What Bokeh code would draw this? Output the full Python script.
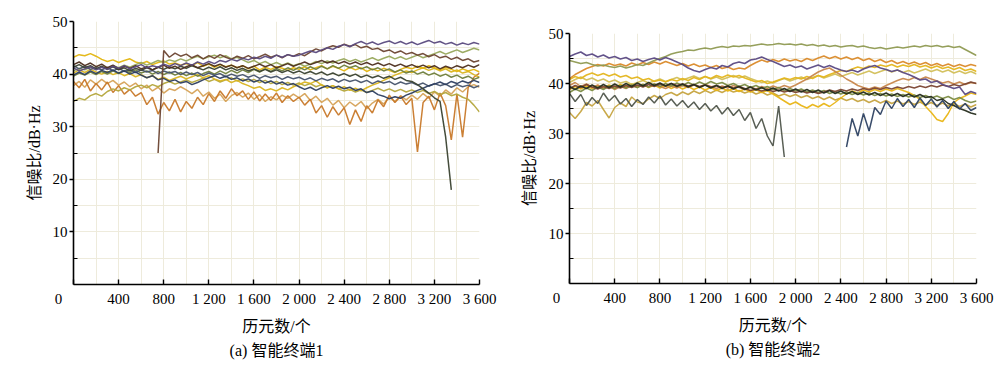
from bokeh.plotting import figure
from bokeh.layouts import row
from bokeh.models import Range1d, FixedTicker, Title
from bokeh.embed import file_html
from bokeh.resources import INLINE

STEP = 50  # epoch spacing of the read-off values

x_ticks = [0, 400, 800, 1200, 1600, 2000, 2400, 2800, 3200, 3600]
x_tick_labels = ["0", "400", "800", "1 200", "1 600", "2 000", "2 400", "2 800", "3 200", "3 600"]
y_ticks = [10, 20, 30, 40, 50]
y_minor = [5, 15, 25, 35, 45]
x_title = "历元数/个"
y_title = "信噪比/dB·Hz"
caption_a = "(a) 智能终端1"
caption_b = "(b) 智能终端2"

# ---------------- panel (a): smart terminal 1 ----------------
a_yellow1 = [43.2, 43.7, 43.5, 43.9, 43.4, 42.8, 42.4, 42.7, 42.2, 42.6,
             42.9, 42.3, 42.0, 42.4, 41.8, 42.2, 42.5, 41.9, 42.1, 41.7,
             42.0, 41.6, 42.2, 41.5, 41.9, 41.3, 41.8, 41.4, 41.7, 41.2,
             41.6, 41.0, 41.5, 40.8, 41.3, 40.9, 41.4, 41.1, 40.7, 41.2,
             40.9, 41.4, 40.8, 41.2, 41.6, 41.0, 41.5, 41.1, 40.6, 41.3,
             40.8, 41.2, 40.5, 41.0, 40.6, 41.1, 40.7, 40.3, 40.9, 41.3,
             41.0, 41.5, 41.1, 41.6, 41.2, 40.8, 41.3, 40.9, 40.5, 41.0,
             40.6, 40.9, 40.4]
a_purple = [41.2, 40.6, 41.0, 41.4, 40.8, 41.3, 40.9, 41.5, 41.1, 41.6,
            41.0, 41.4, 41.8, 41.2, 41.6, 41.3, 41.9, 41.5, 42.0, 41.6,
            42.1, 41.7, 42.3, 41.9, 42.4, 42.0, 42.6, 42.3, 42.8, 42.5,
            43.0, 42.7, 43.2, 42.9, 43.4, 43.0, 43.6, 43.2, 43.7, 43.4,
            43.6, 44.0, 44.4, 44.1, 44.6, 45.0, 44.7, 45.3, 45.6, 45.2,
            45.8, 46.2, 45.7, 46.1, 45.6, 46.0, 46.3, 45.8, 46.2, 45.7,
            46.1, 45.6, 46.0, 46.4, 45.9, 46.2, 45.7, 46.0, 45.5, 45.9,
            45.6, 46.0, 45.7]
a_brown1_start = 750
a_brown1 = [25.0, 44.5, 43.2, 44.0, 43.4,
            43.8, 43.1, 43.6, 42.9, 43.5, 43.0, 43.7, 43.2, 42.8, 43.4,
            43.0, 43.5, 42.9, 43.3, 43.8, 43.2, 43.6, 43.1, 43.7, 43.4,
            43.9, 43.5, 44.2, 44.8, 44.4, 45.0, 45.4, 45.1, 45.7, 45.3,
            45.6, 45.0, 45.3, 44.7, 44.9, 44.3, 44.6, 44.0, 44.4, 43.8,
            44.1, 43.6, 43.9, 43.3, 43.7, 43.1, 43.4, 42.8, 43.2, 42.6,
            42.9, 42.3, 42.6]
a_brown2 = [41.8, 42.3, 41.6, 42.1, 41.4, 41.9, 41.2, 41.7, 41.0, 41.5,
            41.1, 41.6, 41.0, 41.4, 40.8, 41.3, 41.7, 41.1, 41.5, 40.9,
            41.4, 41.8, 41.2, 41.6, 42.0, 41.5, 41.9, 41.3, 41.7, 41.2,
            41.6, 41.1, 41.5, 41.9, 41.4, 41.8, 41.2, 41.6, 42.0, 41.5,
            41.9, 42.3, 41.8, 42.2, 42.6, 42.1, 42.5, 42.0, 42.4, 41.9,
            42.3, 41.8, 42.2, 41.7, 42.1, 41.6, 42.0, 41.5, 41.9, 41.4,
            41.8, 41.3, 41.7, 41.2, 41.6, 41.0, 41.5, 41.1, 41.6, 41.2,
            41.7, 41.3, 41.8]
a_lightgreen = [40.6, 41.1, 40.8, 41.3, 40.9, 41.4, 41.0, 41.6, 41.2, 41.7,
                41.3, 41.8, 42.2, 41.7, 42.1, 42.6, 42.2, 42.7, 42.4, 42.9,
                42.5, 43.0, 43.4, 42.9, 43.3, 43.6, 43.1, 43.5, 42.9, 43.2,
                42.7, 42.2, 42.6, 42.0, 42.4, 41.8, 42.2, 41.7, 42.1, 41.6,
                42.0, 41.5, 41.9, 42.4, 42.0, 42.5, 42.1, 42.6, 42.9, 42.4,
                42.8, 42.3, 42.7, 43.1, 42.6, 43.0, 43.4, 42.9, 43.3, 42.8,
                43.2, 43.6, 43.1, 43.5, 43.9, 44.3, 43.8, 44.2, 44.6, 44.1,
                44.5, 44.9, 44.6]
a_darkgreen = [41.3, 41.8, 41.2, 41.6, 41.0, 41.5, 40.9, 41.4, 40.8, 41.2,
               40.6, 41.1, 40.7, 41.2, 40.8, 41.3, 40.9, 41.4, 41.0, 41.5,
               41.1, 41.6, 41.2, 40.8, 41.3, 40.9, 41.4, 40.8, 41.2, 40.7,
               41.1, 40.6, 41.0, 40.5, 40.9, 40.4, 40.8, 40.3, 40.7, 40.2,
               40.6, 40.1, 40.5, 40.0, 40.4, 39.8, 40.2, 39.7, 40.1, 39.6,
               40.0, 39.4, 39.8, 39.3, 39.7, 39.2, 39.6, 39.0, 39.4, 38.8,
               38.6, 38.0, 37.2, 36.4, 35.5, 34.8, 28.0, 18.0]
a_navy1 = [39.8, 40.4, 39.9, 40.6, 40.1, 40.7, 40.3, 40.8, 40.2, 40.6,
           40.0, 40.4, 39.8, 39.3, 39.7, 38.9, 39.2, 38.6, 38.9, 38.3,
           38.6, 38.0, 38.4, 38.9, 39.3, 39.7, 39.2, 39.6, 39.0, 39.3,
           38.7, 39.1, 38.5, 38.9, 38.3, 38.7, 38.1, 38.5, 37.9, 38.2,
           37.6, 37.1, 37.5, 36.9, 37.4, 37.8, 37.3, 37.7, 37.2, 37.5,
           36.9, 37.2, 36.5, 36.8, 36.1, 35.8, 35.3, 35.7, 35.4, 36.0,
           36.4, 36.9, 37.3, 37.8, 38.1, 38.5, 38.0, 38.6, 38.2, 38.7,
           38.3, 38.8, 38.4]
a_navy2 = [41.6, 41.0, 41.5, 40.9, 41.2, 40.8, 41.3, 40.6, 41.1, 40.5,
           40.9, 40.3, 40.8, 40.4, 40.7, 40.1, 40.6, 40.2, 40.5, 39.9,
           40.4, 39.9, 40.3, 39.7, 40.2, 39.8, 40.1, 39.5, 40.0, 39.6,
           39.9, 39.4, 39.8, 39.2, 39.7, 39.3, 39.6, 39.0, 39.5, 39.1,
           39.4, 38.9, 39.3, 38.7, 39.2, 38.8, 39.1, 38.5, 39.0, 38.6,
           38.9, 38.4, 38.8, 38.2, 38.7, 38.3, 38.6, 38.0, 38.5, 38.1,
           38.4, 37.9, 38.3, 37.7, 38.2, 37.8, 38.1, 37.5, 38.0, 37.6,
           37.9, 37.4, 37.8]
a_orange = [38.6, 37.4, 39.0, 36.8, 38.2, 37.0, 38.5, 36.5, 37.8, 36.2,
            37.1, 35.8, 36.5, 34.2, 35.6, 32.4, 34.6, 33.0, 35.2, 32.8,
            34.8, 33.5, 35.6, 34.2, 36.3, 34.8, 36.8, 35.4, 37.2, 35.9,
            36.8, 35.2, 36.6, 34.9, 36.2, 35.0, 36.4, 34.6, 35.9, 34.8,
            35.6, 34.1, 35.2, 32.6, 34.0, 31.8, 33.8, 32.2, 33.6, 30.4,
            33.2, 31.0, 34.0, 32.6, 35.1, 33.8, 36.0, 34.6, 35.8, 34.2,
            35.4, 25.2, 34.6, 35.8, 33.2, 36.4, 34.0, 27.5, 36.2, 28.0,
            37.5, 39.4, 40.2]
a_tan = [37.8, 38.6, 37.5, 38.9, 38.1, 39.0, 38.2, 38.8, 37.9, 38.5,
         37.6, 38.3, 37.2, 37.9, 36.8, 37.5, 36.4, 37.2, 36.9, 37.6,
         37.0, 36.3, 37.1, 35.8, 36.6, 35.4, 36.2, 34.8, 35.9, 36.5,
         35.6, 36.4, 35.2, 36.1, 34.8, 35.7, 35.1, 36.0, 35.4, 36.2,
         35.5, 36.3, 35.0, 35.8, 34.6, 35.4, 34.1, 35.0, 33.6, 34.7,
         33.9, 34.8, 33.4, 34.5, 35.2, 34.3, 35.6, 34.8, 35.9, 35.1,
         36.0, 35.2, 36.3, 35.4, 36.6, 35.8, 37.0, 36.2, 37.4, 36.6,
         37.6, 38.0, 37.5]
a_yellow2 = [40.2, 40.8, 40.3, 40.9, 40.4, 40.0, 40.5, 39.9, 40.3, 39.7,
             40.1, 39.5, 39.9, 39.3, 39.7, 39.0, 39.4, 38.8, 39.2, 39.6,
             39.1, 39.5, 39.9, 39.3, 39.7, 39.1, 38.7, 39.0, 38.4, 38.8,
             38.2, 37.8, 37.3, 37.6, 36.9, 37.2, 36.8, 37.4, 37.0, 37.6,
             38.0, 38.5, 38.2, 38.7, 37.9, 37.4, 37.8, 37.2, 37.6, 36.9,
             37.3, 36.8, 37.4, 37.9, 38.3, 38.8, 39.3, 39.8, 40.2, 40.6,
             40.3, 40.8, 41.2, 40.7, 41.1, 40.6, 41.0, 40.4, 40.8, 40.2,
             40.5, 39.9, 39.4]
a_olive = [34.8, 35.4, 35.1, 35.9, 36.3, 35.8, 36.7, 37.2, 36.8, 37.4,
           37.0, 37.6, 37.9, 37.4, 38.0, 37.6, 38.2, 38.6, 38.1, 38.5,
           38.9, 38.4, 38.8, 39.2, 38.6, 39.0, 38.5, 38.9, 39.3, 38.7,
           39.1, 38.6, 39.0, 38.4, 38.8, 38.2, 38.6, 38.0, 38.4, 37.9,
           38.3, 37.8, 38.2, 37.6, 38.0, 37.4, 37.8, 37.2, 36.8, 37.1,
           36.6, 37.0, 36.5, 36.9, 37.3, 36.8, 37.2, 36.7, 37.1, 36.6,
           37.0, 36.5, 36.9, 36.3, 36.7, 36.1, 36.5, 35.9, 36.2, 35.6,
           35.2, 34.1, 32.8]
a_green = [39.6, 40.2, 39.8, 40.4, 39.9, 40.5, 40.0, 40.6, 40.1, 40.7,
           40.3, 40.8, 40.2, 40.6, 40.0, 40.5, 39.9, 40.4, 39.8, 40.3,
           39.7, 40.2, 39.6, 40.1, 40.5, 40.0, 40.6, 40.1, 40.7, 40.2,
           40.8, 40.3, 40.9, 40.4, 41.0, 40.5, 41.1, 40.6, 41.2, 40.7,
           41.3, 40.8, 41.4, 40.9, 41.5, 41.0, 41.6, 41.1, 41.7, 41.2,
           41.6, 41.0, 41.4, 40.8, 41.2, 40.6, 41.0, 40.4, 40.8, 40.2,
           40.6, 40.0, 40.4, 39.8, 40.2, 39.6, 40.0, 39.4, 39.8, 39.2,
           39.6, 39.0, 39.4]

# ---------------- panel (b): smart terminal 2 ----------------
b_olive = [44.6, 44.3, 44.0, 44.2, 43.8, 43.5, 43.7, 43.4, 43.2, 43.5,
           43.1, 43.4, 43.8, 43.6, 44.1, 44.6, 45.0, 45.4, 45.9, 46.2,
           46.4, 46.7, 46.6, 46.9, 47.1, 46.9, 47.2, 47.4, 47.2, 47.5,
           47.4, 47.6, 47.5, 47.7, 47.9, 47.7, 47.8, 48.0, 47.8, 47.9,
           47.7, 47.9, 47.6, 47.8, 47.5, 47.7, 47.4, 47.6, 47.3, 47.5,
           47.6, 47.3, 47.5, 47.2, 47.0, 47.2, 46.9, 47.1, 47.3, 47.1,
           47.3, 47.5, 47.3, 47.6, 47.4, 47.6, 47.3, 47.5, 47.2, 47.4,
           46.8, 46.2, 45.6]
b_purple = [45.4, 45.9, 46.3, 45.6, 45.9, 45.3, 45.7, 45.1, 45.4, 44.9,
            45.2, 44.6, 44.9, 44.4, 44.8, 45.1, 44.7, 45.2, 44.8, 44.3,
            43.8, 43.1, 42.6, 42.3, 42.8, 43.2, 42.9, 43.6, 43.3, 44.0,
            44.3, 44.0, 44.7, 44.9, 45.3, 44.8, 44.4, 43.9, 43.4, 43.7,
            43.2, 43.5, 42.9, 43.3, 43.7, 43.2, 43.6, 43.1, 42.7, 42.4,
            42.7, 42.3, 42.9, 43.3, 43.6, 43.1, 42.8, 42.4, 42.7, 42.2,
            41.8, 41.3, 40.7, 40.9, 40.2, 40.5, 39.8, 39.4, 39.0, 39.3,
            37.8, 38.4, 38.0]
b_orange = [41.0, 41.8, 42.4, 43.0, 43.4, 43.8, 43.5, 44.0, 43.6, 43.9,
            43.5, 44.1, 43.7, 44.2, 43.8, 44.3, 43.9, 44.4, 44.0, 43.6,
            44.0, 43.5, 43.9, 43.4, 43.7, 43.2, 43.6, 43.0, 43.3, 42.8,
            43.1, 42.9, 43.6, 44.2, 44.7, 44.3, 44.8, 44.4, 44.9, 44.5,
            44.8, 44.4, 45.0, 44.6, 45.1, 45.5, 45.0, 45.4, 44.9, 45.3,
            44.8, 45.2, 44.6, 45.0, 44.4, 44.8, 44.2, 44.6, 44.0, 44.4,
            43.9, 44.3, 43.8, 44.2, 43.6, 44.0, 43.5, 43.9, 43.4, 43.8,
            43.4, 43.8, 43.5]
b_gold = [40.8, 41.4, 41.0, 41.7, 42.1, 41.6, 42.0, 41.5, 41.9, 41.3,
          41.6, 41.0, 41.3, 40.7, 41.0, 40.4, 40.7, 40.3, 40.8, 40.5,
          41.0, 40.6, 41.2, 40.8, 41.4, 41.0, 41.6, 41.2, 41.7, 41.3,
          41.6, 41.1, 40.7, 40.3, 40.6, 40.0, 40.3, 40.7, 41.1, 40.8,
          41.2, 40.9, 41.4, 41.0, 41.6, 41.3, 41.8, 42.2, 42.6, 42.4,
          42.9, 43.3, 43.0, 43.5, 43.2, 43.7, 43.4, 43.8, 43.3, 43.7,
          43.4, 43.8, 43.3, 43.6, 43.1, 43.5, 43.0, 43.3, 42.8, 43.2,
          42.6, 42.9, 42.4]
b_paleyellow = [40.2, 40.8, 41.3, 40.7, 41.1, 40.5, 40.9, 40.3, 40.7, 40.1,
                40.4, 39.8, 40.2, 40.6, 40.1, 40.5, 40.9, 40.4, 40.8, 41.2,
                40.7, 41.1, 41.5, 41.0, 41.4, 40.9, 41.3, 40.8, 41.2, 41.6,
                41.1, 41.5, 41.0, 40.6, 40.2, 40.5, 40.1, 40.6, 41.0, 40.5,
                40.9, 41.3, 40.8, 41.2, 41.6, 41.1, 41.5, 41.9, 41.4, 41.8,
                42.2, 41.7, 42.1, 42.5, 42.0, 42.4, 42.8, 42.3, 42.7, 42.2,
                42.6, 42.1, 42.5, 42.9, 42.4, 42.8, 42.3, 42.7, 42.1, 42.5,
                42.0, 42.4, 41.9]
b_tan = [39.6, 40.2, 39.4, 39.9, 39.2, 39.7, 39.0, 39.5, 38.8, 39.4,
         39.0, 39.6, 39.2, 39.8, 39.3, 39.9, 39.4, 39.0, 39.5, 39.1,
         39.6, 39.2, 39.7, 39.3, 39.8, 39.4, 39.0, 39.5, 39.1, 39.6,
         39.2, 38.8, 39.3, 38.9, 39.4, 39.0, 39.5, 39.1, 39.6, 39.2,
         39.7, 40.3, 40.9, 41.6, 42.3, 42.8, 43.1, 42.4, 41.7, 40.9,
         40.3, 39.6, 39.2, 38.9, 39.3, 39.0, 39.6, 40.1, 40.6, 41.0,
         40.7, 41.2, 40.8, 41.3, 40.9, 40.5, 40.1, 40.4, 39.9, 40.3,
         39.8, 40.2, 40.0]
b_brown = [39.0, 39.6, 39.2, 39.8, 39.3, 38.9, 39.4, 39.0, 39.5, 39.1,
           39.6, 39.2, 39.7, 39.3, 39.8, 39.4, 39.9, 39.5, 40.0, 39.6,
           39.9, 39.5, 39.8, 39.4, 39.7, 39.3, 39.6, 39.2, 39.5, 39.1,
           39.4, 39.0, 38.6, 38.9, 38.5, 38.8, 38.4, 38.7, 38.3, 38.6,
           38.2, 38.5, 38.1, 38.4, 38.0, 38.3, 38.7, 38.4, 38.8, 38.5,
           38.9, 38.6, 39.0, 38.7, 39.1, 38.8, 39.2, 38.9, 39.3, 39.0,
           39.4, 39.1, 39.5, 39.2, 39.6, 39.3, 39.7, 39.4, 39.8, 39.5,
           39.9, 40.3, 40.0]
b_black = [39.4, 38.8, 39.5, 39.0, 39.7, 39.1, 39.8, 39.2, 39.9, 39.3,
           40.0, 39.4, 40.1, 39.5, 40.2, 39.6, 40.1, 39.5, 40.0, 39.4,
           39.9, 39.3, 39.8, 39.2, 39.7, 39.1, 39.6, 39.0, 39.5, 38.9,
           39.4, 38.8, 39.3, 38.7, 39.2, 38.6, 39.1, 38.5, 39.0, 38.4,
           38.9, 38.3, 38.8, 38.2, 38.7, 38.1, 38.6, 38.0, 38.5, 37.9,
           38.4, 37.8, 38.3, 37.7, 38.2, 37.6, 38.1, 37.5, 38.0, 37.4,
           37.9, 37.3, 37.8, 37.2, 37.4, 36.6, 36.9, 36.0, 35.6, 35.0,
           34.6, 34.1, 33.8]
b_green = [38.2, 38.9, 38.4, 39.1, 38.6, 39.3, 38.8, 39.5, 39.0, 39.6,
           39.1, 39.7, 39.2, 39.8, 39.3, 39.9, 39.4, 40.0, 39.5, 40.1,
           39.6, 40.2, 39.7, 40.3, 39.8, 40.4, 39.9, 40.2, 39.6, 40.0,
           39.4, 39.8, 39.2, 39.6, 39.0, 39.4, 38.8, 39.2, 38.6, 39.0,
           38.5, 38.9, 38.3, 38.7, 38.2, 38.6, 38.0, 38.4, 37.9, 38.3,
           37.8, 38.2, 37.7, 38.1, 37.6, 38.0, 37.5, 37.9, 37.4, 37.8,
           37.3, 37.7, 37.2, 37.6, 37.1, 37.5, 37.0, 37.4, 36.8, 37.2,
           36.6, 36.2, 36.5]
b_gray = [38.0, 36.4, 37.8, 35.6, 37.2, 36.0, 38.1, 36.5, 37.6, 35.9,
          37.0, 35.4, 36.8, 35.8, 37.3, 36.1, 37.5, 35.7, 36.9, 35.5,
          36.6, 35.2, 36.3, 34.8, 36.0, 34.5, 35.6, 33.9, 35.2, 33.6,
          34.8, 32.6, 34.2, 31.0, 33.0, 29.5, 27.5, 35.5, 25.3]
b_navy_start = 2450
b_navy = [27.3, 33.0, 29.5, 34.0, 30.5, 35.2, 33.8, 36.5, 35.0, 37.0,
          35.4, 36.8, 35.2, 37.1, 35.6, 36.9, 35.3, 36.6, 35.0, 36.4,
          34.9, 36.0, 34.6, 35.2]
b_mustard = [34.2, 33.0, 34.4, 36.2, 35.5, 36.6, 34.8, 33.1, 35.2, 36.1,
             35.4, 37.3, 36.3, 36.0, 36.9, 37.6, 37.0, 37.8, 38.2, 37.6,
             38.3, 37.8, 38.5, 38.0, 38.6, 38.1, 38.7, 38.2, 38.8, 38.3,
             38.6, 38.1, 38.5, 37.9, 38.3, 37.7, 38.1, 37.5, 37.9, 37.4,
             37.8, 37.2, 37.6, 37.0, 37.4, 36.8, 37.3, 36.7, 37.1, 36.6,
             37.0, 36.4, 36.8, 36.2, 36.7, 36.1, 36.6, 36.0, 36.5, 35.9,
             36.4, 35.8, 36.3, 35.7, 36.2, 35.6, 36.1, 35.5, 36.0, 35.4,
             35.9, 35.3, 35.8]
b_gold2 = [38.8, 39.4, 38.9, 39.5, 39.0, 39.6, 39.1, 39.7, 39.2, 39.8,
           39.3, 39.9, 39.4, 39.8, 39.2, 39.7, 39.1, 39.6, 39.0, 39.5,
           38.9, 39.4, 38.8, 39.3, 38.7, 39.2, 38.6, 39.1, 38.5, 39.0,
           38.4, 38.9, 38.3, 38.8, 38.2, 38.6, 37.9, 37.2, 36.5, 35.8,
           36.3, 35.6, 35.1, 35.8, 35.3, 36.0, 35.4, 36.2, 37.1, 37.9,
           38.5, 38.1, 38.7, 38.3, 38.8, 38.4, 38.9, 38.5, 39.0, 38.6,
           38.2, 37.6, 36.8, 35.4, 34.2, 32.8, 32.4, 34.0, 36.2, 37.0,
           37.5, 38.1, 37.8]

series_a = [  # (values, first epoch, colour) in drawing order
    (a_tan, 0, "#d6a257"),
    (a_orange, 0, "#c8792a"),
    (a_olive, 0, "#b4a63c"),
    (a_yellow2, 0, "#d9b420"),
    (a_yellow1, 0, "#e3b50f"),
    (a_green, 0, "#6f7e3c"),
    (a_lightgreen, 0, "#98a85c"),
    (a_navy2, 0, "#46536b"),
    (a_navy1, 0, "#2d3e60"),
    (a_darkgreen, 0, "#3a4230"),
    (a_brown2, 0, "#4d2f1f"),
    (a_brown1, a_brown1_start, "#6b4532"),
    (a_purple, 0, "#5a4a7e"),
]
series_b = [
    (b_mustard, 0, "#c6a440"),
    (b_gold2, 0, "#e9b515"),
    (b_paleyellow, 0, "#d2bf58"),
    (b_gold, 0, "#e4b51c"),
    (b_tan, 0, "#c8874c"),
    (b_orange, 0, "#da8a2a"),
    (b_olive, 0, "#8f9a52"),
    (b_green, 0, "#7c8c44"),
    (b_brown, 0, "#7b4631"),
    (b_gray, 0, "#50564c"),
    (b_black, 0, "#262d1e"),
    (b_navy, b_navy_start, "#2e4262"),
    (b_purple, 0, "#5b4a84"),
]

NUM_FONT = "Liberation Serif"
MIX_FONT = "Liberation Serif, Noto Sans CJK SC"
FIG_H = 365
NBSP = "\u00a0"


def panel(series, width, bl, br, bt, fw, fh, caption, zero_pad, ylab_standoff, cap_offset):
    p = figure(width=width, height=FIG_H, x_range=Range1d(0, 3600), y_range=Range1d(0, 50),
               output_backend="svg", toolbar_location=None, frame_align=False,
               min_border_left=bl, min_border_right=br, min_border_top=bt,
               min_border_bottom=FIG_H - bt - fh)
    p.outline_line_color = None
    p.background_fill_color = "white"
    p.border_fill_color = "white"

    for vals, start, color in series:
        xs = [start + STEP * i for i in range(len(vals))]
        p.line(xs, vals, line_color=color, line_width=1.5, line_alpha=0.95)

    grid_col = "#eeebdc"
    p.xgrid.ticker = FixedTicker(ticks=list(range(200, 3601, 200)))
    p.ygrid.ticker = FixedTicker(ticks=list(range(5, 51, 5)))
    p.xgrid.grid_line_color = grid_col
    p.ygrid.grid_line_color = grid_col

    xa = p.xaxis[0]
    xa.ticker = FixedTicker(ticks=x_ticks, minor_ticks=[])
    over = {t: s for t, s in zip(x_ticks, x_tick_labels)}
    over[0] = "0" + NBSP * zero_pad
    xa.major_label_overrides = over
    xa.major_tick_in = 5
    xa.major_tick_out = 0
    xa.minor_tick_in = 0
    xa.minor_tick_out = 0
    xa.major_label_standoff = 6
    xa.axis_label = x_title
    xa.axis_label_standoff = 8

    ya = p.yaxis[0]
    ya.ticker = FixedTicker(ticks=y_ticks, minor_ticks=y_minor)
    ya.major_tick_in = 0
    ya.major_tick_out = 4
    ya.minor_tick_in = 4
    ya.minor_tick_out = 0
    ya.major_label_standoff = 2
    ya.axis_label = y_title
    ya.axis_label_standoff = ylab_standoff

    for ax in (xa, ya):
        ax.axis_line_color = "black"
        ax.axis_line_width = 1.6
        ax.major_tick_line_color = "black"
        ax.major_tick_line_width = 1.4
        ax.minor_tick_line_color = "black"
        ax.minor_tick_line_width = 1.2
        ax.major_label_text_font = NUM_FONT
        ax.major_label_text_font_size = "15px"
        ax.major_label_text_color = "black"
        ax.axis_label_text_font = MIX_FONT
        ax.axis_label_text_font_size = "16px"
        ax.axis_label_text_font_style = "normal"
        ax.axis_label_text_color = "black"

    cap = Title(text=caption, align="center", offset=cap_offset, standoff=4,
                text_font=MIX_FONT, text_font_size="16px", text_font_style="normal",
                text_color="black")
    p.add_layout(cap, "below")
    return p


pa = panel(series_a, 505, 73, 26, 21, 406, 263, caption_a, 8, 7, -6)
pb = panel(series_b, 503, 64, 32, 33, 407, 250, caption_b, 7, 8, 4)

layout = row(pa, pb)
open("out.html", "w").write(file_html(layout, INLINE))
